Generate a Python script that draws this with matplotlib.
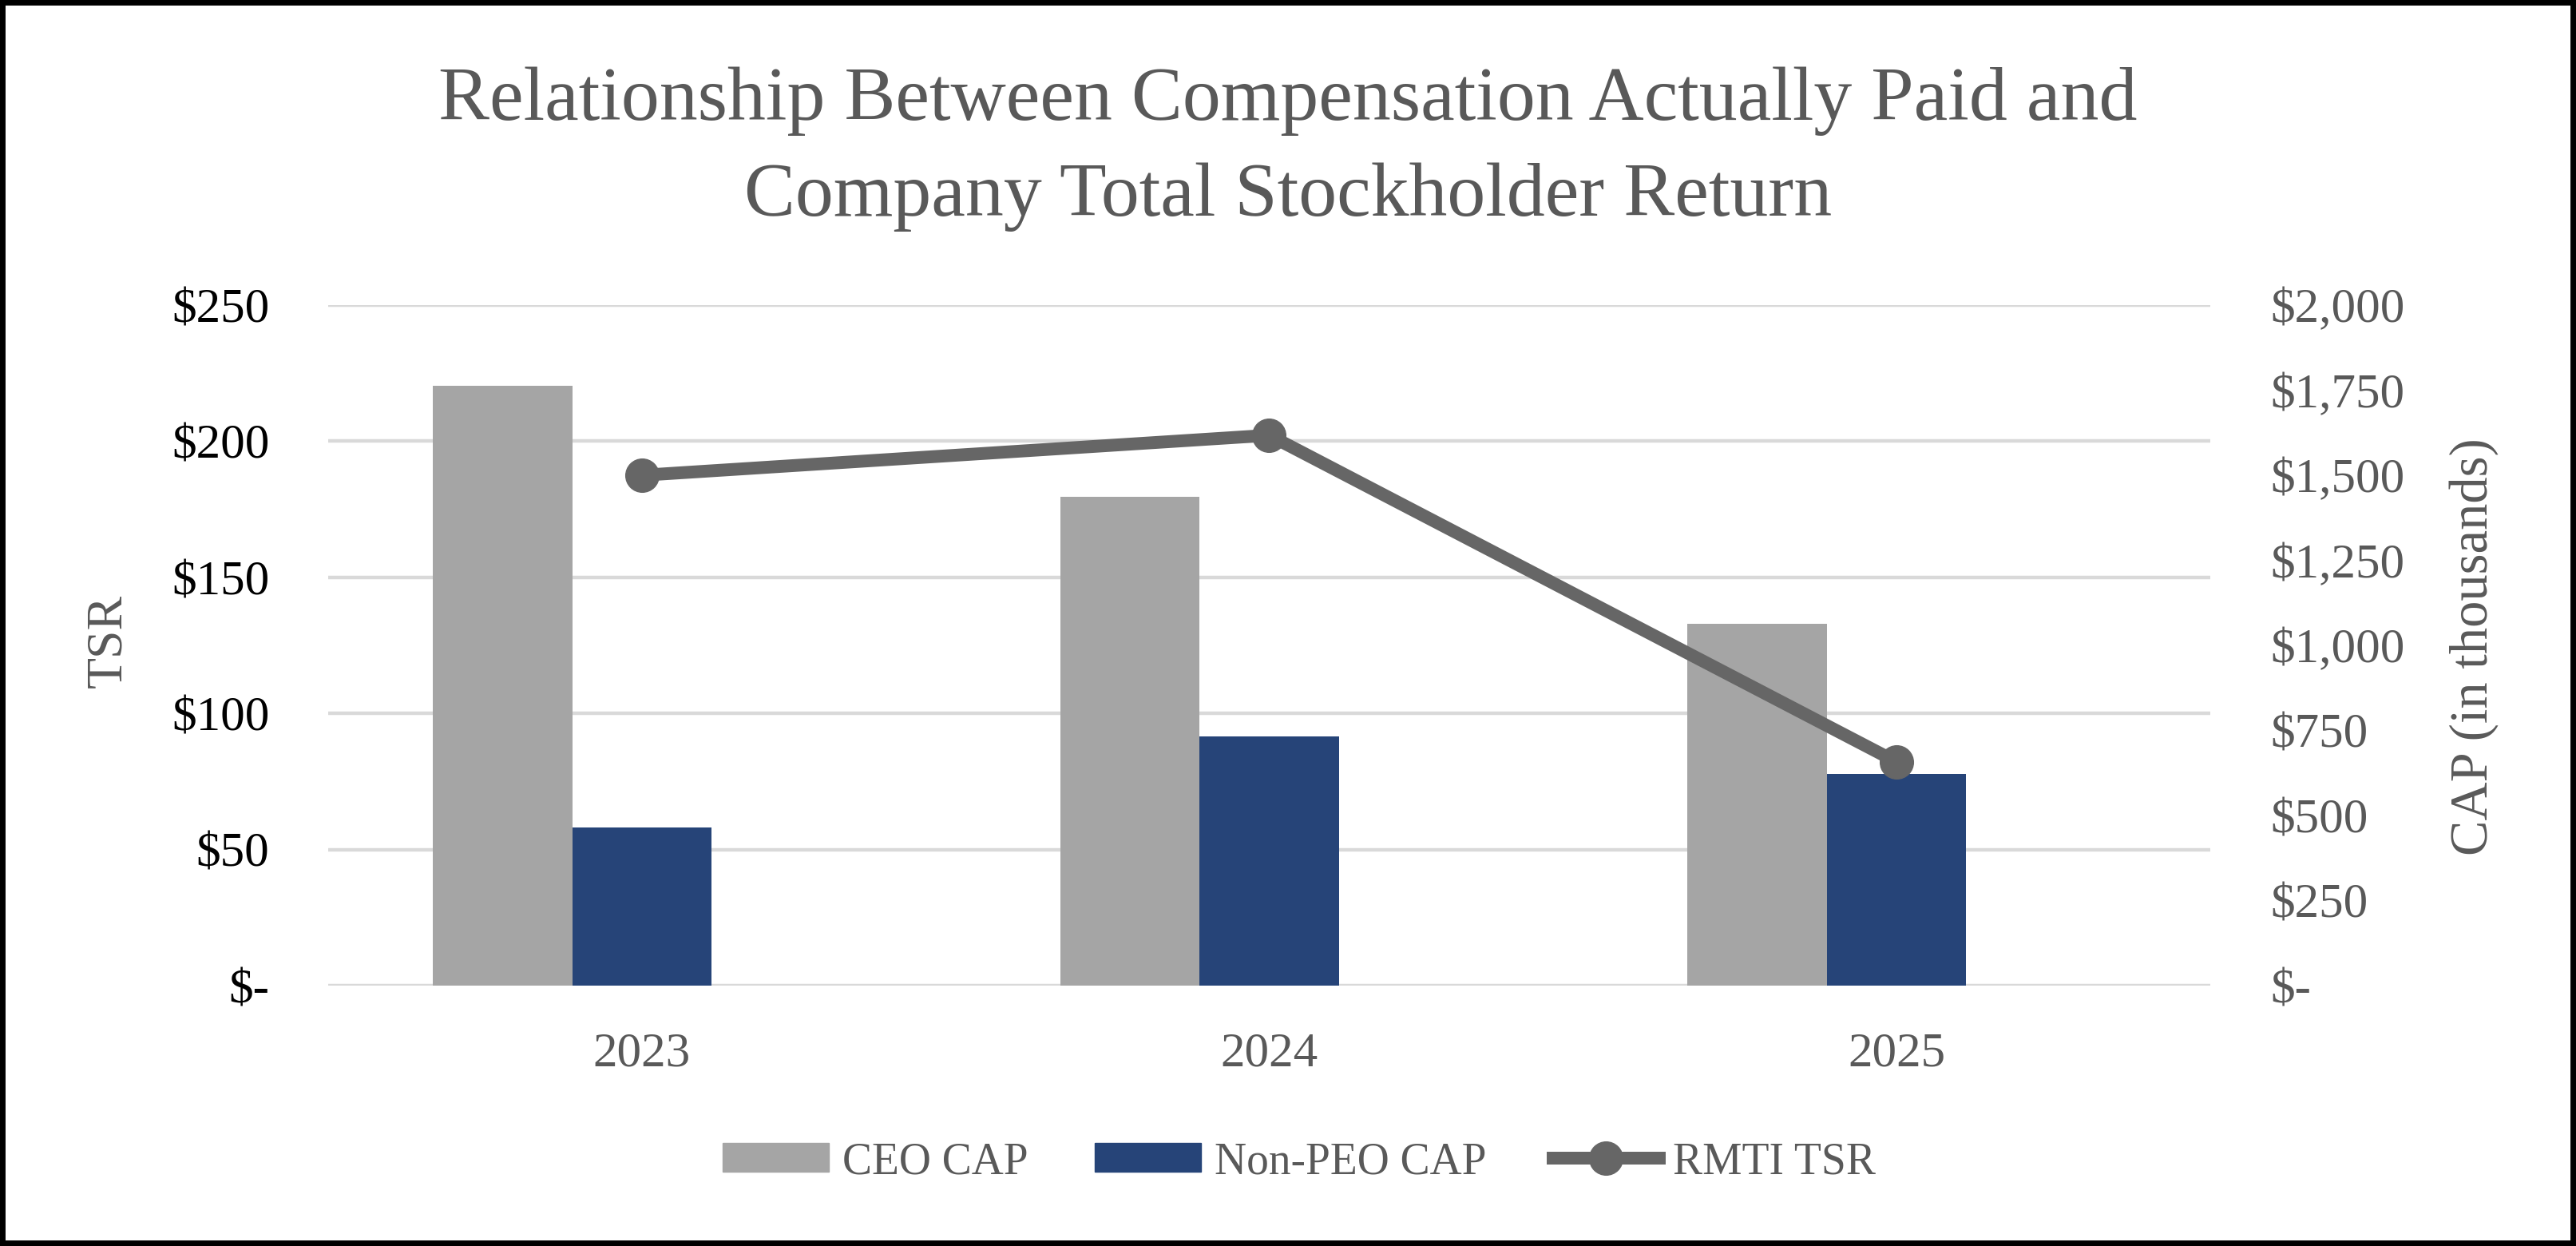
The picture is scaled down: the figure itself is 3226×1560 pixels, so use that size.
import matplotlib
matplotlib.use("Agg")
import matplotlib.pyplot as plt
from matplotlib.patches import Rectangle
from matplotlib.lines import Line2D
from matplotlib.patches import Patch
import numpy as np

plt.rcParams['font.family'] = ['Liberation Serif', 'DejaVu Serif']

years = ['2023', '2024', '2025']
ceo_cap = [1763, 1437, 1063]        # thousands
non_peo_cap = [465, 732, 622]       # thousands
rmti_tsr = [187.5, 202.2, 82.2]

tsr_ticks = [0, 50, 100, 150, 200, 250]
tsr_labels = ['$-', '$50', '$100', '$150', '$200', '$250']
cap_ticks = [0, 250, 500, 750, 1000, 1250, 1500, 1750, 2000]
cap_labels = ['$-', '$250', '$500', '$750', '$1,000', '$1,250', '$1,500', '$1,750', '$2,000']

grey_bar = '#A5A5A5'
navy_bar = '#264478'
line_col = '#666666'
text_col = '#595959'
grid_col = '#D9D9D9'

fig = plt.figure(figsize=(32.26, 15.6), dpi=100)
ax = fig.add_axes([0.1274, 0.2090, 0.7306, 0.5461])
ax2 = ax.twinx()

x = np.arange(len(years))
w = 0.2222

# bars on CAP scale (right side ticks)
ax.bar(x - w, ceo_cap, width=w, color=grey_bar, zorder=2)
ax.bar(x, non_peo_cap, width=w, color=navy_bar, zorder=2)
ax.set_ylim(0, 2000)
ax.set_xlim(-0.5, 2.5)

# horizontal gridlines follow the TSR scale
ax.yaxis.remove_overlapping_locs = False
ax.set_yticks([v * 8 for v in tsr_ticks], minor=True)
ax.grid(axis='y', which='minor', color=grid_col, linewidth=3.2, zorder=0)
ax.set_axisbelow(True)

ax.set_yticks(cap_ticks)
ax.set_yticklabels(cap_labels)
ax.yaxis.tick_right()
ax.tick_params(axis='y', which='both', length=0)
ax.tick_params(axis='y', pad=54, labelsize=44, labelcolor=text_col)
for t in ax.get_yticklabels():
    t.set_horizontalalignment('left')

ax.set_xticks(x)
ax.set_xticklabels(years)
ax.tick_params(axis='x', length=0, pad=42, labelsize=44, labelcolor=text_col)
for s in ax.spines.values():
    s.set_visible(False)

# TSR line on left scale
ax2.plot(x, rmti_tsr, color=line_col, linewidth=11.5, marker='o', markersize=30,
         zorder=3)
ax2.set_ylim(0, 250)
ax2.set_yticks(tsr_ticks)
ax2.set_yticklabels(tsr_labels)
ax2.yaxis.tick_left()
ax2.tick_params(axis='y', length=0, pad=53, labelsize=44, labelcolor='black')
for s in ax2.spines.values():
    s.set_visible(False)

fig.text(136 / 3226, 1 - 802 / 1560, 'TSR', rotation=90, ha='center', va='center',
         fontsize=46, color=text_col)
fig.text(3098 / 3226, 1 - 810 / 1560, 'CAP (in thousands)', rotation=90, ha='center',
         va='center', fontsize=48, color=text_col)

fig.text(0.5, 1 - 150 / 1560, 'Relationship Between Compensation Actually Paid and',
         ha='center', va='baseline', fontsize=69, color=text_col)
fig.text(0.5, 1 - 270 / 1560, 'Company Total Stockholder Return',
         ha='center', va='baseline', fontsize=69, color=text_col)

handles = [Patch(color=grey_bar), Patch(color=navy_bar),
           Line2D([0], [0], color=line_col, linewidth=11.5, marker='o', markersize=30)]
fig.legend(handles, ['CEO CAP', 'Non-PEO CAP', 'RMTI TSR'], loc='center',
           bbox_to_anchor=(0.5043, 1 - 1455 / 1560), ncol=3, frameon=False,
           fontsize=40, handlelength=2.4, handleheight=0.62, handletextpad=0.3,
           columnspacing=1.5, labelcolor=text_col)

fig.add_artist(Rectangle((0, 0), 1, 1, transform=fig.transFigure, fill=False,
                         edgecolor='black', linewidth=10))

fig.savefig('out.png', dpi=100)
